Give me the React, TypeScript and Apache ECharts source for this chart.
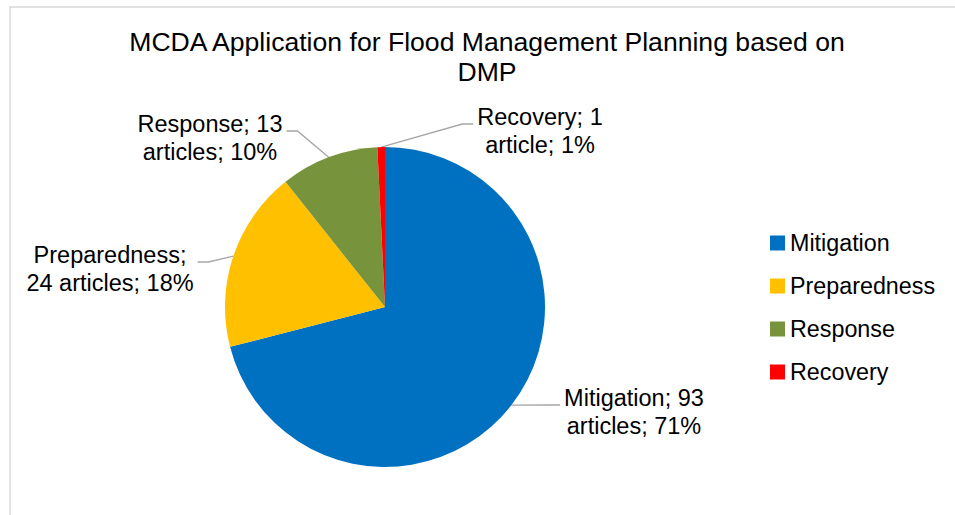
import React, { useEffect, useRef } from "react";
import * as echarts from "echarts";

const categories = ["Mitigation", "Preparedness", "Response", "Recovery"];
const articleCounts = [93, 24, 13, 1];
const sliceColors = ["#0070C0", "#FFC000", "#77933C", "#FF0000"];
const titleText = "MCDA Application for Flood Management Planning based on\nDMP";

// label centre positions (layout only)
const labelCentres: [number, number][] = [
  [634, 412],
  [110, 269],
  [210, 138],
  [540, 131],
];
const labelSide = ["right", "left", "left", "right"];

const FONT = "'Liberation Sans', Arial, sans-serif";

export default function App() {
  const ref = useRef<HTMLDivElement>(null);
  useEffect(() => {
    if (!ref.current) return;
    const chart = echarts.init(ref.current, null, { renderer: "svg" });
    const total = articleCounts.reduce((a, b) => a + b, 0);
    const data = categories.map((name, i) => ({
      name,
      value: articleCounts[i],
      itemStyle: { color: sliceColors[i] },
    }));
    const lineH = 28;
    chart.setOption({
      animation: false,
      backgroundColor: "#ffffff",
      title: {
        text: titleText,
        left: 487,
        top: 27,
        padding: 0,
        textAlign: "center",
        textStyle: {
          fontFamily: FONT,
          fontSize: 26.6,
          fontWeight: "normal",
          color: "#000",
          lineHeight: 30,
        },
      },
      legend: {
        orient: "vertical",
        left: 770,
        top: 231,
        padding: 0,
        itemWidth: 15,
        itemHeight: 15,
        itemGap: 19,
        icon: "rect",
        data: categories,
        textStyle: {
          fontFamily: FONT,
          fontSize: 23.3,
          color: "#000",
          lineHeight: 24,
        },
      },
      graphic: [
        {
          type: "rect",
          shape: { x: 10, y: 7, width: 1000, height: 600 },
          style: { fill: "none", stroke: "#d9d9d9", lineWidth: 1.5 },
          silent: true,
        },
      ],
      series: [
        {
          type: "pie",
          center: [385, 307],
          radius: 160,
          startAngle: 90,
          clockwise: true,
          data,
          label: {
            show: true,
            position: "outside",
            fontFamily: FONT,
            fontSize: 23.5,
            color: "#000",
            lineHeight: lineH,
            align: "center",
            formatter: (p: any) => {
              const pct = Math.round((p.value / total) * 100);
              const unit = p.value === 1 ? "article" : "articles";
              if (p.name.length > 10) {
                return `${p.name};\n${p.value} ${unit}; ${pct}%`;
              }
              return `${p.name}; ${p.value}\n${unit}; ${pct}%`;
            },
          },
          labelLine: {
            show: true,
            lineStyle: { color: "#A6A6A6", width: 1.3 },
          },
          labelLayout: (params: any) => {
            const i = params.dataIndex;
            const [x, y] = labelCentres[i];
            const w = params.labelRect.width;
            const h = params.labelRect.height;
            const p0 = params.labelLinePoints
              ? params.labelLinePoints[0]
              : [x, y];
            const endY = y - h / 2 + lineH / 2 + 7;
            let endX: number;
            let elbowX: number;
            if (labelSide[i] === "right") {
              endX = x - w / 2 - 4;
              elbowX = endX - 11;
            } else {
              endX = x + w / 2 + 4;
              elbowX = endX + 11;
            }
            return {
              x,
              y,
              align: "center",
              verticalAlign: "middle",
              labelLinePoints: [p0, [elbowX, endY], [endX, endY]],
            };
          },
          itemStyle: { borderWidth: 0 },
          emphasis: { disabled: true },
        },
      ],
    });
    return () => chart.dispose();
  }, []);
  return (
    <div
      ref={ref}
      style={{ position: "fixed", left: 0, top: 0, width: 955, height: 515 }}
    />
  );
}
